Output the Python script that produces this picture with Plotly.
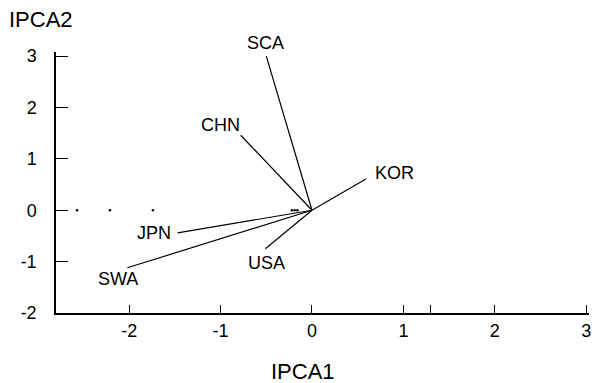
import plotly.graph_objects as go

# Data
labels = ["SCA", "CHN", "KOR", "USA", "JPN", "SWA"]
ipca1 = [-0.50, -0.78, 0.59, -0.51, -1.47, -2.02]
ipca2 = [3.00, 1.46, 0.61, -0.75, -0.44, -1.12]

# small environment/genotype dots near the IPCA2 = 0 line
dot_x = [-2.57, -2.21, -1.74, -0.22, -0.19, -0.16]
dot_y = [0, 0, 0, 0, 0, 0]

x_ticks = [-2, -1, 0, 1, 1.3, 2, 3]
x_ticktext = ["-2", "-1", "0", "1", "", "2", "3"]
y_ticks = [-2, -1, 0, 1, 2, 3]
y_ticktext = ["-2", "-1", "0", "1", "2", "3"]

# label offsets in pixels (styling)
label_shift = {
    "SCA": (-1, 13), "CHN": (-20, 10), "KOR": (29, 6),
    "USA": (1, -14), "JPN": (-24, 0), "SWA": (-9, -11),
}

FONT = "Liberation Sans, Arial, sans-serif"

fig = go.Figure()

vx, vy = [], []
for x, y in zip(ipca1, ipca2):
    vx += [0, x, None]
    vy += [0, y, None]
fig.add_trace(go.Scatter(x=vx, y=vy, mode="lines",
                         line=dict(color="black", width=1.2),
                         hoverinfo="skip", showlegend=False))

fig.add_trace(go.Scatter(x=dot_x, y=dot_y, mode="markers",
                         marker=dict(color="black", size=2.5),
                         hoverinfo="skip", showlegend=False))

for lab, x, y in zip(labels, ipca1, ipca2):
    dx, dy = label_shift[lab]
    fig.add_annotation(x=x, y=y, text=lab, showarrow=False,
                       xshift=dx, yshift=dy,
                       font=dict(family=FONT, size=18, color="black"))

fig.add_annotation(x=0, y=1, xref="paper", yref="paper", text="IPCA2",
                   showarrow=False, xanchor="center", yanchor="middle",
                   xshift=-15, yshift=33,
                   font=dict(family=FONT, size=22, color="black"))
fig.add_annotation(x=0, y=0, xref="x", yref="paper", text="IPCA1",
                   showarrow=False, xanchor="center", yanchor="middle",
                   xshift=-9, yshift=-58,
                   font=dict(family=FONT, size=22, color="black"))

fig.update_layout(
    width=596, height=383,
    margin=dict(l=56, r=5, t=52, b=70),
    paper_bgcolor="white", plot_bgcolor="white",
    font=dict(family=FONT, size=18, color="black"),
    xaxis=dict(range=[-2.8, 3.03], tickvals=x_ticks, ticktext=x_ticktext,
               tickfont=dict(family=FONT, size=18, color="black"),
               showline=True, linecolor="black", linewidth=1.5,
               ticks="inside", ticklen=8, tickwidth=1.2, tickcolor="black",
               showgrid=False, zeroline=False, ticklabelstandoff=1),
    yaxis=dict(range=[-2, 3.08], tickvals=y_ticks, ticktext=y_ticktext,
               tickfont=dict(family=FONT, size=18, color="black"),
               showline=True, linecolor="black", linewidth=1.5,
               ticks="inside", ticklen=12, tickwidth=1.2, tickcolor="black",
               showgrid=False, zeroline=False, ticklabelstandoff=14),
)

# remove the browser's default 8px body margin so the figure fills the window
fig.write_html("out.html",
               config={"displayModeBar": False},
               post_script="document.body.style.margin='0';"
                           "document.body.style.overflow='hidden';")
